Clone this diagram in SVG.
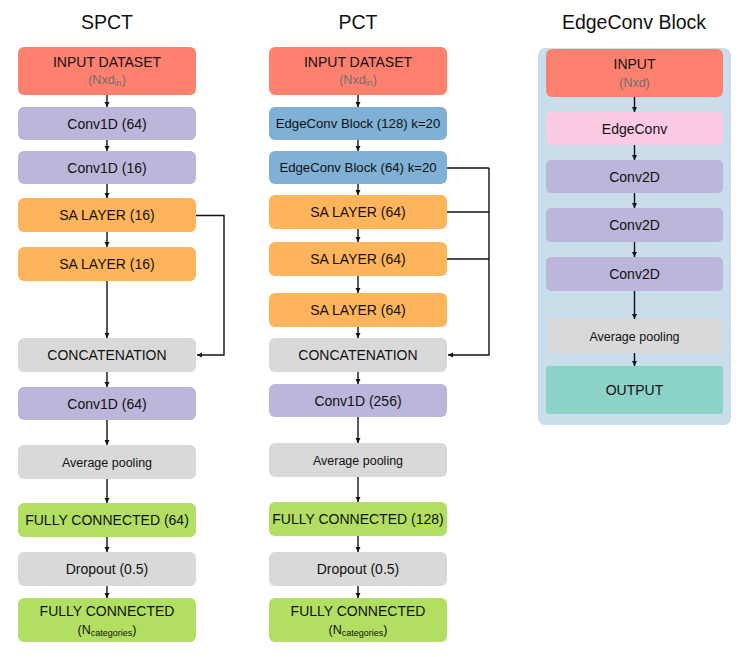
<svg xmlns="http://www.w3.org/2000/svg" width="747" height="657" viewBox="0 0 747 657">
<style>
text{font-family:"Liberation Sans",Arial,sans-serif;fill:#111;text-anchor:middle}
.t{font-size:19.5px}
.l{font-size:14px}
.s{font-size:12.5px}
.m{font-size:13.2px}
.e{font-size:14px}
.g{fill:#6f6f6f}
.sub{font-size:9px}
.inp{fill:#fe8170}
.cv{fill:#bcb6da}
.sa{fill:#feb45b}
.gr{fill:#d9d9d9}
.fc{fill:#b2df62}
.eb{fill:#7fb1d6}
.ec{fill:#fdcae4}
.out{fill:#8cd3c7}
.c{fill:none;stroke:#111;stroke-width:1.4}
</style>
<defs>
<marker id="a" viewBox="0 0 10 10" refX="10" refY="5" markerWidth="5" markerHeight="6" markerUnits="userSpaceOnUse" orient="auto">
<path d="M0,0 L10,5 L0,10 z" fill="#111"/>
</marker>
</defs>
<rect width="747" height="657" fill="#fff"/>
<text class="t" x="107" y="29">SPCT</text>
<text class="t" x="358" y="29">PCT</text>
<text class="t" x="634" y="29">EdgeConv Block</text>
<rect id="panel" x="538" y="48" width="193" height="377" rx="7" fill="#c9deea"/>

<g id="spct_input"><rect class="inp" x="18" y="47" width="178" height="48" rx="6"/><text class="l" x="107" y="67">INPUT DATASET</text><text class="s g" x="107" y="84">(Nxd<tspan class="sub" dy="2">in</tspan><tspan dy="-2">)</tspan></text></g>
<g id="spct_conv1"><rect class="cv" x="18" y="107" width="178" height="33" rx="6"/><text class="l" x="107" y="128.5">Conv1D (64)</text></g>
<g id="spct_conv2"><rect class="cv" x="18" y="151" width="178" height="33" rx="6"/><text class="l" x="107" y="172.5">Conv1D (16)</text></g>
<g id="spct_sa1"><rect class="sa" x="18" y="198" width="178" height="34" rx="6"/><text class="l" x="107" y="220">SA LAYER (16)</text></g>
<g id="spct_sa2"><rect class="sa" x="18" y="247" width="178" height="34" rx="6"/><text class="l" x="107" y="269">SA LAYER (16)</text></g>
<g id="spct_concat"><rect class="gr" x="18" y="338" width="178" height="34" rx="6"/><text class="l" x="107" y="360">CONCATENATION</text></g>
<g id="spct_conv3"><rect class="cv" x="18" y="387" width="178" height="33" rx="6"/><text class="l" x="107" y="408.5">Conv1D (64)</text></g>
<g id="spct_pool"><rect class="gr" x="18" y="445" width="178" height="34" rx="6"/><text class="s" x="107" y="466.5">Average pooling</text></g>
<g id="spct_fc1"><rect class="fc" x="18" y="503" width="178" height="34" rx="6"/><text class="l" x="107" y="525">FULLY CONNECTED (64)</text></g>
<g id="spct_drop"><rect class="gr" x="18" y="552" width="178" height="34" rx="6"/><text class="l" x="107" y="574">Dropout (0.5)</text></g>
<g id="spct_fc2"><rect class="fc" x="18" y="598" width="178" height="44" rx="6"/><text class="l" x="107" y="616">FULLY CONNECTED</text><text class="s" x="107" y="634">(N<tspan class="sub" dy="2">categories</tspan><tspan dy="-2">)</tspan></text></g>

<g id="pct_input"><rect class="inp" x="269" y="47" width="178" height="48" rx="6"/><text class="l" x="358" y="67">INPUT DATASET</text><text class="s g" x="358" y="84">(Nxd<tspan class="sub" dy="2">in</tspan><tspan dy="-2">)</tspan></text></g>
<g id="pct_ec1"><rect class="eb" x="269" y="107" width="178" height="33" rx="6"/><text class="m" x="358" y="128">EdgeConv Block (128) k=20</text></g>
<g id="pct_ec2"><rect class="eb" x="269" y="151" width="178" height="33" rx="6"/><text class="m" x="358" y="172">EdgeConv Block (64) k=20</text></g>
<g id="pct_sa1"><rect class="sa" x="269" y="195" width="178" height="34" rx="6"/><text class="l" x="358" y="217">SA LAYER (64)</text></g>
<g id="pct_sa2"><rect class="sa" x="269" y="242" width="178" height="34" rx="6"/><text class="l" x="358" y="264">SA LAYER (64)</text></g>
<g id="pct_sa3"><rect class="sa" x="269" y="293" width="178" height="34" rx="6"/><text class="l" x="358" y="315">SA LAYER (64)</text></g>
<g id="pct_concat"><rect class="gr" x="269" y="338" width="178" height="34" rx="6"/><text class="l" x="358" y="360">CONCATENATION</text></g>
<g id="pct_conv"><rect class="cv" x="269" y="384" width="178" height="33" rx="6"/><text class="l" x="358" y="405.5">Conv1D (256)</text></g>
<g id="pct_pool"><rect class="gr" x="269" y="443" width="178" height="34" rx="6"/><text class="s" x="358" y="464.5">Average pooling</text></g>
<g id="pct_fc1"><rect class="fc" x="269" y="502" width="178" height="34" rx="6"/><text class="l" x="358" y="524">FULLY CONNECTED (128)</text></g>
<g id="pct_drop"><rect class="gr" x="269" y="552" width="178" height="34" rx="6"/><text class="l" x="358" y="574">Dropout (0.5)</text></g>
<g id="pct_fc2"><rect class="fc" x="269" y="598" width="178" height="44" rx="6"/><text class="l" x="358" y="616">FULLY CONNECTED</text><text class="s" x="358" y="634">(N<tspan class="sub" dy="2">categories</tspan><tspan dy="-2">)</tspan></text></g>

<g id="eb_input"><rect class="inp" x="546" y="49" width="177" height="48" rx="6"/><text class="l" x="634.5" y="69">INPUT</text><text class="s g" x="634.5" y="87">(Nxd)</text></g>
<g id="eb_edgeconv"><rect class="ec" x="546" y="112" width="177" height="33" rx="5"/><text class="e" x="634.5" y="133.5">EdgeConv</text></g>
<g id="eb_conv1"><rect class="cv" x="546" y="160" width="177" height="33" rx="5"/><text class="e" x="634.5" y="181.5">Conv2D</text></g>
<g id="eb_conv2"><rect class="cv" x="546" y="208" width="177" height="34" rx="5"/><text class="e" x="634.5" y="230">Conv2D</text></g>
<g id="eb_conv3"><rect class="cv" x="546" y="257" width="177" height="34" rx="5"/><text class="e" x="634.5" y="279">Conv2D</text></g>
<g id="eb_pool"><rect class="gr" x="546" y="319" width="177" height="34" rx="5"/><text class="s" x="634.5" y="340.5">Average pooling</text></g>
<g id="eb_output"><rect class="out" x="546" y="366" width="177" height="48" rx="3"/><text class="l" x="634.5" y="395">OUTPUT</text></g>

<g id="connectors">
<path class="c" marker-end="url(#a)" d="M107,95V107"/>
<path class="c" marker-end="url(#a)" d="M107,140V151"/>
<path class="c" marker-end="url(#a)" d="M107,184V198"/>
<path class="c" marker-end="url(#a)" d="M107,232V247"/>
<path class="c" marker-end="url(#a)" d="M107,281V338"/>
<path class="c" marker-end="url(#a)" d="M196,215.5H224V355H197"/>
<path class="c" marker-end="url(#a)" d="M107,372V387"/>
<path class="c" marker-end="url(#a)" d="M107,420V445"/>
<path class="c" marker-end="url(#a)" d="M107,479V503"/>
<path class="c" marker-end="url(#a)" d="M107,537V552"/>
<path class="c" marker-end="url(#a)" d="M107,586V598"/>

<path class="c" marker-end="url(#a)" d="M358,95V107"/>
<path class="c" marker-end="url(#a)" d="M358,140V151"/>
<path class="c" marker-end="url(#a)" d="M358,184V195"/>
<path class="c" marker-end="url(#a)" d="M358,229V242"/>
<path class="c" marker-end="url(#a)" d="M358,276V293"/>
<path class="c" marker-end="url(#a)" d="M358,327V338"/>
<path class="c" d="M447,168H489"/>
<path class="c" d="M447,212H489"/>
<path class="c" d="M447,259H489"/>
<path class="c" marker-end="url(#a)" d="M489,168V355H448"/>
<path class="c" marker-end="url(#a)" d="M358,372V384"/>
<path class="c" marker-end="url(#a)" d="M358,417V443"/>
<path class="c" marker-end="url(#a)" d="M358,477V502"/>
<path class="c" marker-end="url(#a)" d="M358,536V552"/>
<path class="c" marker-end="url(#a)" d="M358,586V598"/>

<path class="c" marker-end="url(#a)" d="M634.5,97V112"/>
<path class="c" marker-end="url(#a)" d="M634.5,145V160"/>
<path class="c" marker-end="url(#a)" d="M634.5,193V208"/>
<path class="c" marker-end="url(#a)" d="M634.5,242V257"/>
<path class="c" marker-end="url(#a)" d="M634.5,291V319"/>
<path class="c" marker-end="url(#a)" d="M634.5,353V366"/>
</g>
</svg>
